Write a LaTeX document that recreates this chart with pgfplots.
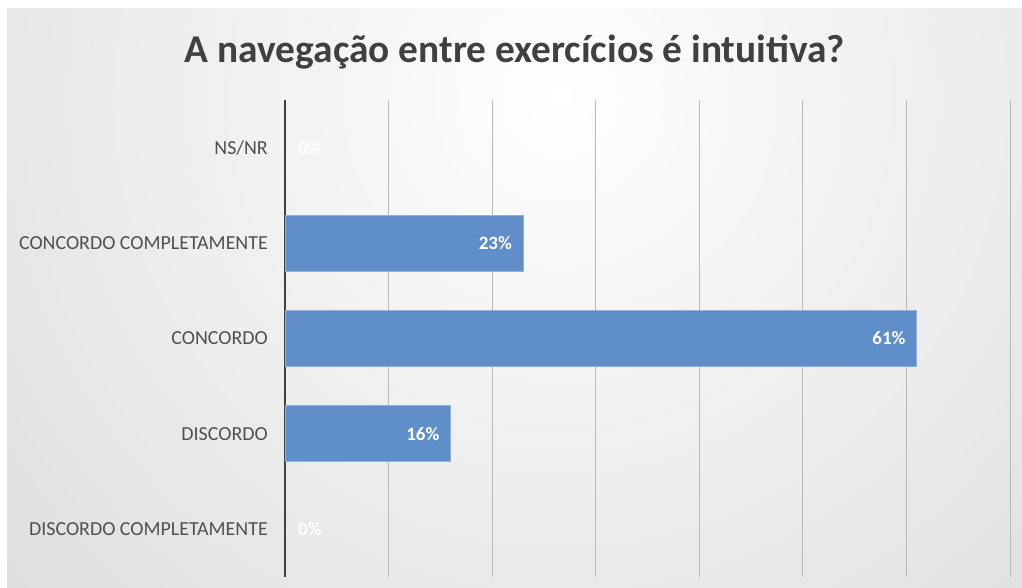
\documentclass[border=0pt]{standalone}
\usepackage{fontspec}
\setmainfont{Carlito}
\usepackage{pgfplots}
\pgfplotsset{compat=1.18}
\usepackage{pgfplotstable}

\definecolor{barblue}{RGB}{96,142,200}
\definecolor{baredge}{RGB}{140,178,224}
\definecolor{txtgray}{RGB}{64,64,64}
\definecolor{lblgray}{RGB}{80,80,80}
\definecolor{gridgray}{RGB}{185,185,185}
\definecolor{bgedge}{RGB}{196,196,196}

% pos: 4 = top row
\pgfplotstableread{
pos value
4 0
3 23
2 61
1 16
0 0
}\datatable

\begin{document}
\begin{tikzpicture}[x=1bp,y=1bp]
\useasboundingbox (0,0) rectangle (1022,588);
\fill[white] (0,0) rectangle (1022,588);
\begin{scope}
  \clip (7,0) rectangle (1022,579);
  \shade[inner color=white, outer color=bgedge] (560,490) circle (1350);
\end{scope}

\node[anchor=base, text=txtgray, font=\bfseries\fontsize{39.5}{45}\selectfont] at (515,525)
  {A navegação entre exercícios é intuitiva?};

\begin{axis}[
  at={(285bp,11bp)}, anchor=south west,
  scale only axis, width=725bp, height=477bp,
  xbar, bar width=56bp,
  xmin=0, xmax=70, ymin=-0.5, ymax=4.5,
  axis lines*=left,
  x axis line style={draw=none},
  y axis line style={draw=txtgray, line width=2bp},
  xtick={0,10,...,70}, xticklabels={},
  ytick={0,1,2,3,4},
  yticklabels={DISCORDO COMPLETAMENTE, DISCORDO, CONCORDO, CONCORDO COMPLETAMENTE, NS/NR},
  yticklabel style={font=\fontsize{20}{24}\selectfont, text=lblgray, inner sep=0pt, xshift=-17bp},
  major tick length=0pt,
  tick style={draw=none},
  xmajorgrids,
  grid style={gridgray, line width=1bp},
  /pgf/number format/assume math mode=true,
  nodes near coords={\pgfmathprintnumber{\pgfplotspointmeta}\%},
  every node near coord/.append style={inner sep=0pt, text=white,
    font=\bfseries\fontsize{19}{22}\selectfont},
]
% bars, label inside the end
\addplot[bar shift=0pt, fill=barblue, draw=baredge, line width=0.8bp,
  x filter/.expression={x==0 ? nan : x},
  every node near coord/.append style={anchor=east, xshift=-11bp},
] table[x=value, y=pos] {\datatable};
% zero values: label right of the axis
\addplot[bar shift=0pt, draw=none, fill=none,
  x filter/.expression={x==0 ? x : nan},
  every node near coord/.append style={anchor=west, xshift=13bp},
] table[x=value, y=pos] {\datatable};
\end{axis}
\end{tikzpicture}
\end{document}
